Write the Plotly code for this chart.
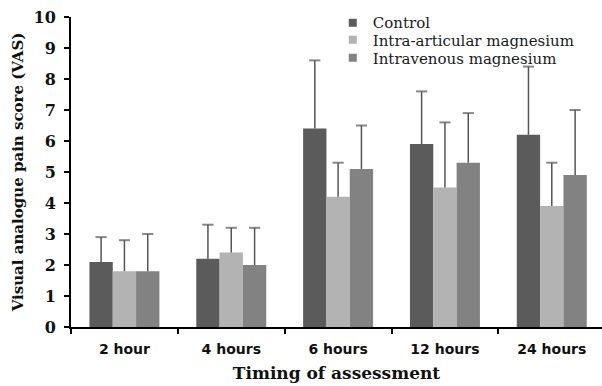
import plotly.graph_objects as go

categories = ["2 hour", "4 hours", "6 hours", "12 hours", "24 hours"]
series_names = ["Control", "Intra-articular magnesium", "Intravenous magnesium"]
control = [2.1, 2.2, 6.4, 5.9, 6.2]
control_sd = [0.8, 1.1, 2.2, 1.7, 2.2]
intra = [1.8, 2.4, 4.2, 4.5, 3.9]
intra_sd = [1.0, 0.8, 1.1, 2.1, 1.4]
iv = [1.8, 2.0, 5.1, 5.3, 4.9]
iv_sd = [1.2, 1.2, 1.4, 1.6, 2.1]
y_ticks = list(range(0, 11))

colors = ["#5b5b5b", "#b3b3b3", "#828282"]
values = [control, intra, iv]
errs = [control_sd, intra_sd, iv_sd]
legend_ids = ["legend", "legend2", "legend3"]
legend_y = [0.981, 0.926, 0.868]

fig = go.Figure()
for i, (name, v, c) in enumerate(zip(series_names, values, colors)):
    fig.add_trace(go.Bar(
        x=categories, y=v, name=name, offsetgroup=str(i), showlegend=False,
        marker=dict(color=c, line=dict(width=0)),
    ))

# one-sided (upper) error bars drawn as grouped scatter lines with a cap on top only
for i, (v, e) in enumerate(zip(values, errs)):
    xs, ys, sizes = [], [], []
    for cat, val, err in zip(categories, v, e):
        xs += [cat, cat, None]
        ys += [val, val + err, None]
        sizes += [0, 8, 0]
    fig.add_trace(go.Scatter(
        x=xs, y=ys, mode="lines+markers", offsetgroup=str(i), showlegend=False,
        line=dict(color="#555555", width=1.5),
        marker=dict(symbol="line-ew-open", size=sizes, line=dict(color="#555555", width=2)),
        hoverinfo="skip", connectgaps=False,
    ))

# legend entries (small square swatches), one legend per series for tight spacing
for i, (name, c) in enumerate(zip(series_names, colors)):
    fig.add_trace(go.Scatter(
        x=[None], y=[None], mode="markers", name=name, offsetgroup=str(i),
        marker=dict(symbol="square", size=8, color=c), legend=legend_ids[i],
        showlegend=True,
    ))

legend_common = dict(xanchor="left", yanchor="middle",
                     font=dict(family="DejaVu Serif", size=15, color="#1a1a1a"),
                     bgcolor="rgba(0,0,0,0)", itemwidth=30, borderwidth=0)

fig.update_layout(
    width=602, height=386,
    margin=dict(l=71, r=0, t=17, b=59),
    paper_bgcolor="white", plot_bgcolor="white",
    barmode="group", bargap=0.345, bargroupgap=0,
    scattermode="group", scattergap=0.345,
    showlegend=True,
    legend=dict(x=0.493, y=legend_y[0], **legend_common),
    legend2=dict(x=0.493, y=legend_y[1], **legend_common),
    legend3=dict(x=0.493, y=legend_y[2], **legend_common),
    xaxis=dict(
        range=[-0.5, 4.47], showline=True, linecolor="black", linewidth=2,
        ticks="outside", tickson="boundaries", ticklen=5, tickwidth=2, tickcolor="black",
        tickfont=dict(family="DejaVu Sans", size=14, color="#111", weight="bold"),
        ticklabelstandoff=8,
        title=dict(text="Timing of assessment", font=dict(family="DejaVu Serif", size=17, color="#111", weight="bold"), standoff=11),
        showgrid=False,
    ),
    yaxis=dict(
        range=[0, 10], tickvals=y_ticks, showline=True, linecolor="black", linewidth=2,
        ticks="outside", ticklen=5, tickwidth=2, tickcolor="black",
        tickfont=dict(family="DejaVu Serif", size=16, color="#111", weight="bold"),
        ticklabelstandoff=5,
        title=dict(text="Visual analogue pain score (VAS)", font=dict(family="DejaVu Serif", size=15, color="#111", weight="bold"), standoff=6),
        showgrid=False, zeroline=False,
    ),
)

fig.write_html("out.html")
